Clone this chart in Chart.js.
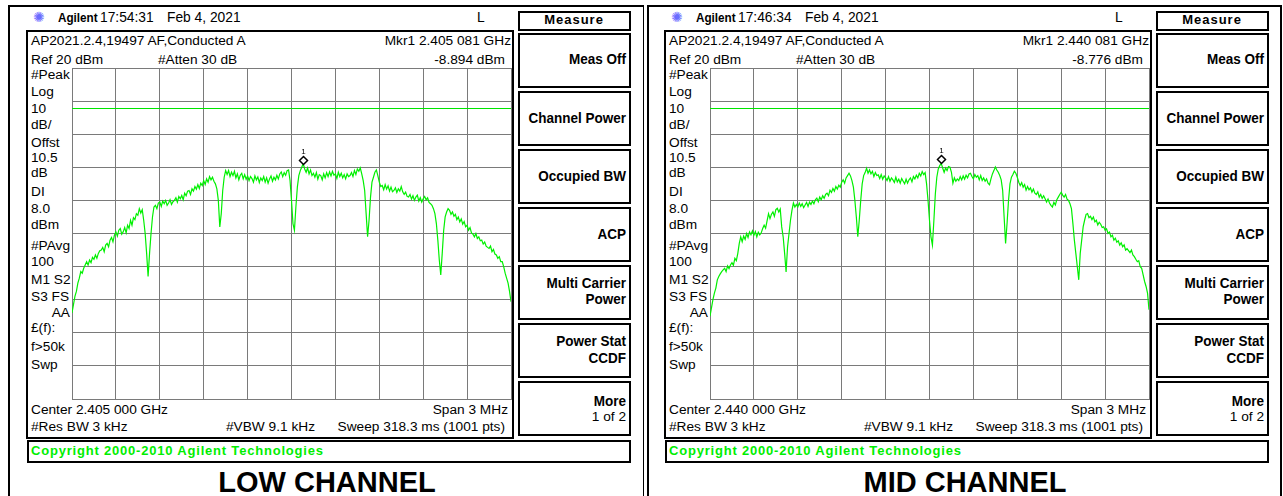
<!DOCTYPE html>
<html><head><meta charset="utf-8">
<script src="https://cdn.jsdelivr.net/npm/chart.js@4.4.0/dist/chart.umd.min.js"></script>
<style>
html,body{margin:0;padding:0;background:#fff;width:1283px;height:496px;overflow:hidden;position:relative;}
.a{position:absolute;white-space:nowrap;font-family:'Liberation Sans',Arial,sans-serif;color:#000;line-height:1;}
.box{position:absolute;box-sizing:border-box;border-style:solid;border-color:#000;}
canvas{position:absolute;}
</style></head><body>
<script>
// ---- data (dBm), one trace sample every 0.01 MHz across the 3 MHz span (offset from center) ----
const spanStartMHz = -1.5;
const stepMHz = 0.01;
const lowLevels = [
 -54,-51.5,-49,-47.5,-45,-43.5,-41.5,-42,-40.5,-39.5,
 -38.5,-39.5,-38,-38.8,-37.2,-37.8,-36.5,-37.5,-36,-35.2,
 -35,-34.2,-35.5,-33.5,-33,-34,-32,-31.2,-32.5,-30.5,
 -29.5,-30.8,-29,-28.5,-30.2,-29.5,-28.2,-29.8,-27.5,-28.5,
 -26,-27.5,-25.2,-25.8,-24,-24.5,-22.5,-23.8,-22.8,-26,
 -30,-36,-43,-36,-30,-25,-22,-21.5,-22.5,-20.8,
 -20.5,-21.8,-20.2,-21,-20,-21.5,-20.8,-19.8,-21.2,-20.4,
 -20,-19.2,-20.5,-18.8,-19.5,-18.5,-19.8,-17.8,-18.6,-17.2,
 -17,-18.2,-16.5,-17.2,-15.8,-16.6,-15.2,-16.4,-14.8,-15.5,
 -14,-15.2,-13.5,-14.5,-12.8,-13.8,-13,-14.2,-15,-16.5,
 -20,-28,-24,-17,-13,-11,-12.2,-11,-12.8,-11.5,
 -12.5,-11.2,-13.2,-12,-13.8,-12.4,-11.8,-13.5,-12.2,-13.6,
 -12.6,-14,-12.8,-13.4,-14.5,-12.6,-13.8,-12.9,-14.6,-13.2,
 -14,-12.8,-14.5,-13.2,-14.8,-13.5,-12.6,-14.2,-13,-13.8,
 -12.4,-13.5,-12,-11.4,-12.8,-11.6,-12.4,-11,-10.8,-14,
 -20,-27,-29,-22,-16,-12.5,-11,-10,-8.9,-10.5,
 -11.5,-10.2,-12,-10.8,-12.5,-11.8,-13,-11.6,-13.6,-12.2,
 -12.5,-13.8,-12,-13.2,-11.6,-12.8,-11.4,-12.6,-11.2,-12.4,
 -12,-13.4,-11.5,-12.8,-11.8,-13.2,-12.2,-13.5,-12,-12.8,
 -12.5,-11.6,-12.8,-11,-12.2,-10.5,-11.2,-10.2,-12,-14,
 -17,-24,-31,-26,-19,-14.5,-13,-11.5,-10.8,-12.5,
 -14.5,-15.8,-15.5,-16.8,-15.2,-16.6,-15.6,-17.2,-16,-17.4,
 -17,-16.2,-17.6,-16.5,-17.2,-15.8,-17.4,-18.2,-17.5,-18.8,
 -19,-18.2,-19.6,-18.6,-20,-19,-18.4,-20.2,-19.2,-20.5,
 -19.5,-18.8,-19.8,-19.2,-20.6,-21,-21.5,-22.5,-24,-27,
 -32,-38,-42.5,-36,-29,-25,-23.5,-22.5,-23,-24.2,
 -23.5,-24.8,-24.2,-25.8,-25,-26.5,-25.6,-27.2,-26.4,-28,
 -27.5,-29,-28.2,-29.8,-30.2,-31,-30,-31.5,-31,-32.2,
 -32,-33.2,-32.6,-33.8,-34.2,-34.5,-33.8,-35.5,-34.8,-36.2,
 -36.5,-37.5,-37,-38.5,-38.5,-40,-42,-43.5,-45,-47.5,
 -50.6
];
const midLevels = [
 -55,-52.5,-50,-48,-46.5,-44,-43,-42.2,-41.5,-41,
 -40.5,-41.5,-39.8,-40.6,-39.5,-38.8,-39.6,-37.5,-38.2,-36,
 -33,-31,-32.5,-30.8,-31.8,-30,-31.2,-29.5,-30.4,-29.2,
 -30.5,-29.4,-31,-29.6,-30.4,-29.8,-28.5,-27.5,-28.4,-26.2,
 -24,-25.5,-24.2,-23.5,-24.8,-22.8,-22.4,-23.5,-22.6,-28,
 -31,-36,-41.6,-34,-30,-26,-23,-20.8,-22,-21.2,
 -22,-20.8,-21.8,-21,-22.2,-21.4,-20.6,-21.8,-20.5,-21.2,
 -20.2,-21,-19.8,-19.3,-20.4,-19,-19.8,-18.6,-19.4,-18.2,
 -17.8,-18.6,-16.9,-17.6,-16.4,-17.2,-15.8,-16.6,-15.4,-16,
 -14.5,-13.8,-14.8,-13.2,-12.5,-11.8,-12.6,-14,-16,-20,
 -25,-31,-26,-20,-15,-12.5,-11.6,-10.3,-11.8,-10.8,
 -12,-11.2,-12.8,-11.6,-12.5,-12.3,-13.4,-12.2,-13.6,-12.6,
 -13.2,-14,-12.8,-14.2,-13.2,-13.8,-14.6,-13,-14.4,-13.6,
 -14.8,-13.4,-14.2,-15,-13.6,-14.8,-13.8,-13.2,-14.4,-12.8,
 -13.5,-12.4,-13.2,-11.8,-12.6,-11.3,-12.2,-11.6,-15,-20,
 -26,-31,-33.5,-26,-18,-13,-10.5,-9.5,-8.8,-10.2,
 -11.5,-10.2,-11,-9.8,-10,-11.5,-14.8,-13.2,-14.2,-13.5,
 -14,-12.8,-13.8,-12.6,-13.6,-12.4,-13.2,-12,-11.8,-12.8,
 -13.5,-12.2,-13,-12.5,-13.8,-12.5,-14,-13.2,-14.2,-13.5,
 -14.8,-15.3,-13.5,-12,-11,-9.9,-10.8,-11.5,-12.5,-13.8,
 -17,-25,-33,-27,-20,-15,-13,-12.2,-11.2,-11.8,
 -13,-14.5,-15.5,-14.6,-16,-15.2,-16.9,-15.8,-16.8,-16.2,
 -17.5,-16.6,-17.8,-18.2,-17.4,-19,-18.2,-19.4,-18.6,-19.5,
 -20.5,-19.6,-20.8,-21.5,-22,-20.6,-21.4,-19.8,-19,-18.2,
 -17.5,-18.4,-19,-18.2,-19.6,-20,-21,-22.5,-27,-32,
 -36,-40,-44,-36,-32,-28,-26,-24.2,-24,-25.2,
 -24.8,-25.8,-25,-26.5,-26,-27.4,-26.6,-27.2,-28.2,-28,
 -29,-28.6,-30,-29.6,-31,-30.5,-32,-31.4,-32.6,-32.2,
 -33.5,-32.8,-34,-33.4,-35,-34.6,-35.2,-35.8,-35,-36.5,
 -37,-37.8,-38.5,-38.2,-40,-40.5,-42.5,-44.5,-46,-48,
 -53
];
const refLevel = 20, bottomLevel = -80, dbPerDiv = 10;
const displayLine = 8.0;
const markerOffsetMHz = [0.081, 0.081];
const markerLevel = [-8.894, -8.776];
const timeText = ['17:54:31', '17:46:34'];
const markerFreqText = ['2.405 081 GHz', '2.440 081 GHz'];
const centerText = ['2.405 000 GHz', '2.440 000 GHz'];
const titles = ['LOW CHANNEL', 'MID CHANNEL'];
const softkeys = [['Meas Off'],['Channel Power'],['Occupied BW'],['ACP'],['Multi Carrier','Power'],['Power Stat','CCDF'],['More','1 of 2']];
const sideLabels = [['#Peak',70],['Log',87],['10',104],['dB/',120],['Offst',138],['10.5',153],['dB',168],['DI',187],['8.0',204],['dBm',220],['#PAvg',241],['100',257],['M1  S2',275],['S3  FS',292],['£(f):',323],['f>50k',342],['Swp',360]];

function txt(x, capTop, s, opt) {
  opt = opt || {};
  const size = opt.size || 13.7;
  const d = document.createElement('div');
  d.className = 'a';
  d.textContent = s;
  d.style.fontSize = size + 'px';
  if (opt.bold) d.style.fontWeight = 'bold';
  if (opt.color) d.style.color = opt.color;
  if (opt.ls) d.style.letterSpacing = opt.ls + 'px';
  if (opt.family) d.style.fontFamily = opt.family;
  d.style.top = (capTop - 0.128 * size) + 'px';
  d.style.left = x + 'px';
  let tr = '', org = '0 0';
  if (opt.align === 'right') { tr = 'translateX(-100%)'; org = '100% 0'; }
  else if (opt.align === 'center') { tr = 'translateX(-50%)'; org = '50% 0'; }
  if (opt.sx) tr += ' scaleX(' + opt.sx + ')';
  d.style.transformOrigin = org;
  d.style.transform = tr;
  document.body.appendChild(d);
}
function box(x1, y1, x2, y2, bw) {
  const d = document.createElement('div');
  d.className = 'box';
  d.style.left = x1 + 'px'; d.style.top = y1 + 'px';
  d.style.width = (x2 - x1) + 'px'; d.style.height = (y2 - y1) + 'px';
  d.style.borderWidth = bw;
  document.body.appendChild(d);
}

// display line (crisp, pixel aligned) + marker diamond, both placed through the chart scales
const markerPlugin = {
  id: 'mkr',
  beforeDatasetsDraw(chart) {
    const o = chart.options.plugins.mkr;
    const c = chart.ctx, a = chart.chartArea;
    const y = Math.round(chart.scales.y.getPixelForValue(o.dl)) + 0.5;
    c.save();
    c.strokeStyle = '#00e600'; c.lineWidth = 1;
    c.beginPath(); c.moveTo(a.left, y); c.lineTo(a.right, y); c.stroke();
    c.restore();
  },
  afterDatasetsDraw(chart) {
    const o = chart.options.plugins.mkr;
    const c = chart.ctx;
    const x = Math.round(chart.scales.x.getPixelForValue(o.f)) + 0.5;
    const y = Math.round(chart.scales.y.getPixelForValue(o.v) - 4) + 0.5;
    c.save();
    c.beginPath();
    c.moveTo(x, y - 4); c.lineTo(x + 4, y); c.lineTo(x, y + 4); c.lineTo(x - 4, y); c.closePath();
    c.fillStyle = '#fff'; c.fill();
    c.lineWidth = 1.5; c.strokeStyle = '#000'; c.stroke();
    c.fillStyle = '#000';
    c.font = '8px "Liberation Sans", Arial';
    c.textAlign = 'center'; c.textBaseline = 'alphabetic';
    c.fillText('1', x, y - 7);
    c.restore();
  }
};

function panel(p, dx) {
  // frames
  if (p === 0) box(8, 5, 644, 520, '2px 1px 0 2px');
  else box(647, 5, 1282, 520, '2px 2px 0 2px');
  // header
  txt(33 + dx, 12, '✺', {size: 14, color: '#6b6bff', family: 'DejaVu Sans'});
  txt(58 + dx, 13, 'Agilent', {size: 13, bold: true, sx: 0.9});
  txt(100 + dx, 13, timeText[p], {size: 13.8});
  txt(167 + dx, 13, 'Feb 4, 2021', {size: 13.8});
  txt(477 + dx, 13, 'L', {size: 13.8});
  // instrument screen
  box(26 + dx, 30, 514 + dx, 439, '2px');
  txt(31 + dx, 36, 'AP2021.2.4,19497 AF,Conducted A', {size: 13.7});
  txt(31 + dx, 55, 'Ref 20 dBm', {size: 13.7});
  txt(158 + dx, 55, '#Atten 30 dB', {size: 13.7});
  txt(511 + dx, 36, 'Mkr1  ' + markerFreqText[p], {size: 13.7, align: 'right'});
  txt(505 + dx, 55, markerLevel[p].toFixed(3) + ' dBm', {size: 13.7, align: 'right'});
  sideLabels.forEach(([s, y]) => txt(31 + dx, y, s, {size: 13.7}));
  txt(70 + dx, 308, 'AA', {size: 13.7, align: 'right'});
  txt(31 + dx, 405, 'Center ' + centerText[p], {size: 13.7});
  txt(508 + dx, 405, 'Span 3 MHz', {size: 13.7, align: 'right'});
  txt(31 + dx, 422, '#Res BW 3 kHz', {size: 13.7});
  txt(226 + dx, 422, '#VBW 9.1 kHz', {size: 13.7});
  txt(505 + dx, 422, 'Sweep 318.3 ms (1001 pts)', {size: 13.7, align: 'right'});
  // softkeys
  box(518 + dx, 11, 631 + dx, 31, '2px');
  txt(574 + dx, 15, 'Measure', {size: 13, bold: true, align: 'center', ls: 1});
  const tops = [33, 91, 149, 207, 265, 323, 381];
  const caps = [[53], [112], [170], [228], [277, 293], [335, 352], [395, 412]];
  softkeys.forEach((lines, i) => {
    box(518 + dx, tops[i], 631 + dx, tops[i] + 55, '2px');
    lines.forEach((s, j) => {
      const normal = (i === 6 && j === 1);
      txt(626 + dx, caps[i][j], s, {size: normal ? 13.7 : 15, bold: !normal, align: 'right', sx: normal ? 1 : 0.9});
    });
  });
  // copyright
  box(27 + dx, 440, 631 + dx, 463, '2px');
  txt(31 + dx, 446, 'Copyright 2000-2010 Agilent Technologies', {size: 13, bold: true, color: '#00ee00', ls: 0.8});
  // title
  txt(327 + dx, 472, titles[p], {size: 29, bold: true, align: 'center'});

  // chart
  const cv = document.createElement('canvas');
  cv.width = 441; cv.height = 333;
  cv.style.left = (71 + dx) + 'px'; cv.style.top = '67px';
  cv.style.width = '441px'; cv.style.height = '333px';
  document.body.appendChild(cv);
  const levels = p === 0 ? lowLevels : midLevels;
  const pts = levels.map((v, i) => ({x: spanStartMHz + i * stepMHz, y: v}));
  const gridStyle = {color: '#7a7a7a', lineWidth: 1, drawTicks: false};
  new Chart(cv.getContext('2d'), {
    type: 'line',
    data: {datasets: [
      {data: pts, borderColor: '#00f000', borderWidth: 1.2, pointRadius: 0, tension: 0}
    ]},
    options: {
      animation: false, responsive: false, devicePixelRatio: 1,
      layout: {padding: 1},
      plugins: {legend: {display: false}, tooltip: {enabled: false}, mkr: {f: markerOffsetMHz[p], v: markerLevel[p], dl: displayLine}},
      scales: {
        x: {type: 'linear', min: -1.5, max: 1.5, ticks: {display: false, stepSize: 0.3}, grid: gridStyle, border: {color: '#7a7a7a'}},
        y: {type: 'linear', min: bottomLevel, max: refLevel, ticks: {display: false, stepSize: dbPerDiv}, grid: gridStyle, border: {color: '#7a7a7a'}}
      }
    },
    plugins: [markerPlugin]
  });
}
panel(0, 0);
panel(1, 638);
</script>
</body></html>
